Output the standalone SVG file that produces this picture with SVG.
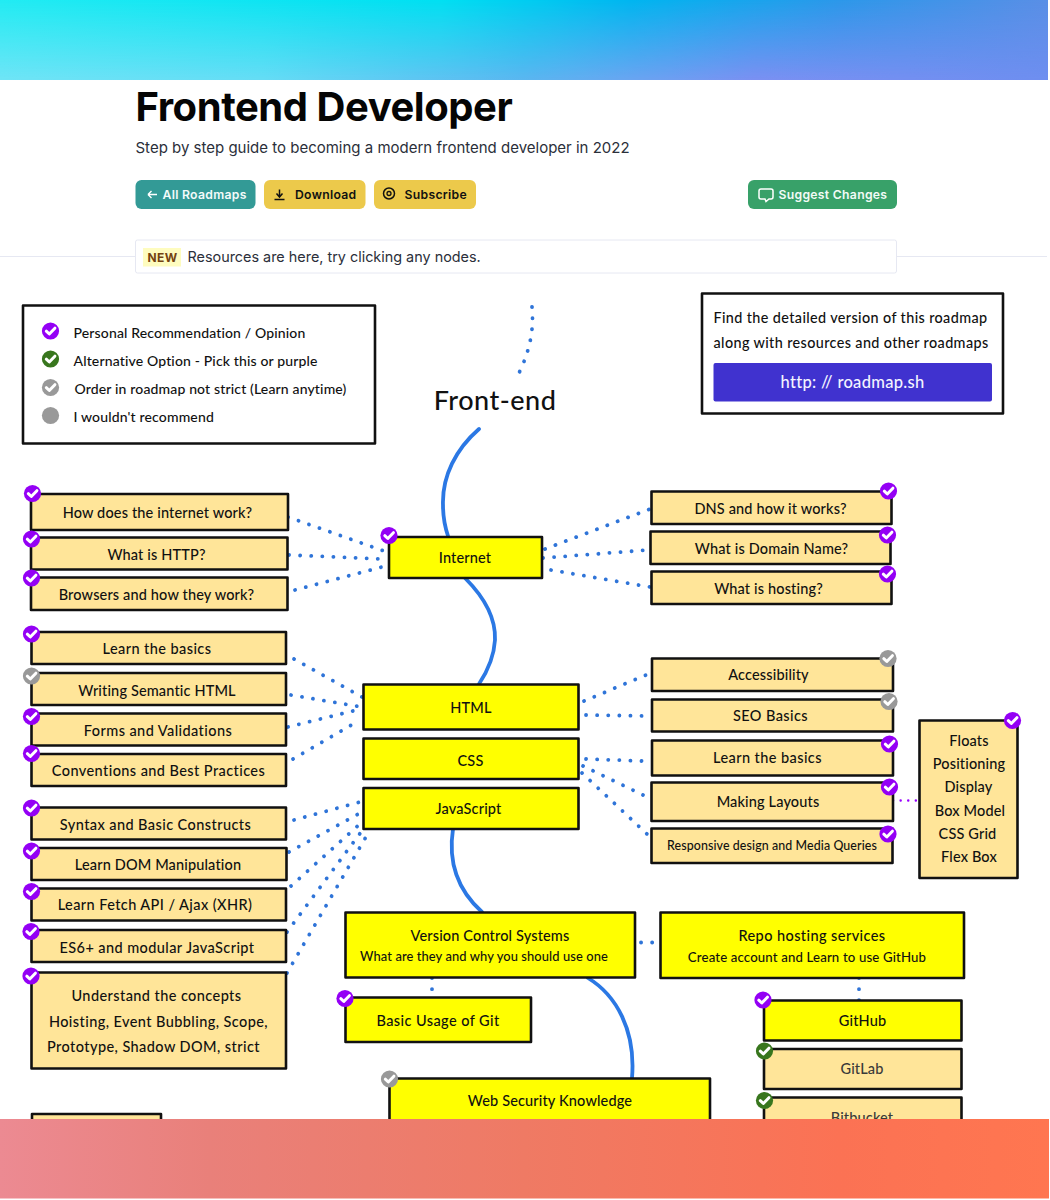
<svg xmlns="http://www.w3.org/2000/svg" width="1050" height="1200" viewBox="0 0 1050 1200">
<style>
.ui{font-family:"Inter","Liberation Sans",sans-serif}
.t{font-family:"Lato","Open Sans",sans-serif;font-size:14.5px;font-weight:500;fill:#111;text-anchor:middle;letter-spacing:.15px}
.w{letter-spacing:.42px}
.s{font-size:12.9px;letter-spacing:.1px}
.l{text-anchor:start;font-size:14px}
.p{text-anchor:start;font-size:14.4px;letter-spacing:.38px}
.n{stroke:#111;stroke-width:2.6;stroke-linejoin:round}
.y{fill:#ff0}
.o{fill:#ffe599}
.d{fill:none;stroke:#2f74d8;stroke-width:3.8;stroke-linecap:round;stroke-dasharray:.1 11}
.c{fill:none;stroke:#2b78e4;stroke-width:3.8;stroke-linecap:round}
.b{font-size:12.2px;font-weight:600;letter-spacing:.3px}
</style>
<defs>
<linearGradient id="topA" x1="0" y1="0" x2="1" y2="0"><stop offset="0" stop-color="#22ecf3"/><stop offset=".42" stop-color="#00e0f2"/><stop offset=".6" stop-color="#00b6f0"/><stop offset=".8" stop-color="#2c98ea"/><stop offset="1" stop-color="#5a8fe6"/></linearGradient>
<linearGradient id="topB" x1="0" y1="0" x2="1" y2="0"><stop offset="0" stop-color="#6fe4f6"/><stop offset=".25" stop-color="#66dcf5"/><stop offset=".5" stop-color="#5ab6f0"/><stop offset=".72" stop-color="#7b90f2"/><stop offset="1" stop-color="#6e8ef0"/></linearGradient>
<linearGradient id="fade" x1="0" y1="0" x2="0" y2="1"><stop offset="0" stop-color="#000"/><stop offset="1" stop-color="#fff"/></linearGradient>
<mask id="topMask" maskUnits="userSpaceOnUse" x="0" y="0" width="1050" height="80"><rect width="1050" height="80" fill="url(#fade)"/></mask>
<linearGradient id="bot" x1="0" y1="0" x2="1" y2="0"><stop offset="0" stop-color="#ec8a92"/><stop offset=".2" stop-color="#e9807a"/><stop offset=".5" stop-color="#ef7a64"/><stop offset=".8" stop-color="#fb7254"/><stop offset="1" stop-color="#ff7650"/></linearGradient>
<path id="chk" d="M-4.2,.2 L-1.2,3 L4.4,-2.8" fill="none" stroke="#fff" stroke-width="3" stroke-linecap="round" stroke-linejoin="round"/>
<g id="bp"><circle r="8.6" fill="#9400f5"/><use href="#chk"/></g>
<g id="bg"><circle r="8.6" fill="#38761d"/><use href="#chk"/></g>
<g id="bs"><circle r="8.6" fill="#999"/><use href="#chk"/></g>
</defs>
<rect width="1050" height="1200" fill="#fff"/>

<g id="header">
<line x1="0" y1="256.500" x2="135" y2="256.500" stroke="#e6e8f2"/>
<line x1="897" y1="256.500" x2="1047" y2="256.500" stroke="#e6e8f2"/>
<text class="ui" x="135.500" y="121" font-size="40" font-weight="700" fill="#050505" letter-spacing="-.45">Frontend Developer</text>
<text class="ui" x="135.500" y="153" font-size="15" fill="#2b2f3a">Step by step guide to becoming a modern frontend developer in 2022</text>
<rect x="135.500" y="180" width="120" height="29" rx="6" fill="#339a96"/>
<path d="M148,194.500h9M148,194.500l3.500,-3.500M148,194.500l3.500,3.500" stroke="#fff" stroke-width="1.400" fill="none"/>
<text class="ui b" x="162.500" y="199" fill="#f4fbfa">All Roadmaps</text>
<rect x="264" y="180" width="101.500" height="29" rx="6" fill="#ecc94b"/>
<path d="M279.500,189.500v7M276.500,193.500l3,3.500l3,-3.500M274.500,199.500h10" stroke="#111" stroke-width="1.500" fill="none"/>
<text class="ui b" x="295" y="199" fill="#111">Download</text>
<rect x="374" y="180" width="102" height="29" rx="6" fill="#ecc94b"/>
<circle cx="389" cy="193.500" r="5.500" fill="none" stroke="#111" stroke-width="1.500"/><circle cx="389" cy="193.500" r="2" fill="none" stroke="#111" stroke-width="1.300"/>
<text class="ui b" x="404.500" y="199" fill="#111">Subscribe</text>
<rect x="748" y="180" width="149" height="29" rx="6" fill="#38a169"/>
<path d="M761,189h10a2,2 0 0 1 2,2v6a2,2 0 0 1 -2,2h-2l-3,2.500l-1,-2.500h-4a2,2 0 0 1 -2,-2v-6a2,2 0 0 1 2,-2z" fill="none" stroke="#fff" stroke-width="1.500"/>
<text class="ui b" x="778.500" y="199" fill="#f2fbf6">Suggest Changes</text>
<rect x="135.500" y="240" width="761" height="33" rx="2" fill="#fff" stroke="#e6e8f2"/>
<rect x="143" y="248" width="38" height="18.500" fill="#fefcbf"/>
<text class="ui" x="147.500" y="262" font-size="12" font-weight="700" fill="#744210" letter-spacing=".4">NEW</text>
<text class="ui" x="187.500" y="262" font-size="14.400" fill="#2b2f3a">Resources are here, try clicking any nodes.</text>
</g>

<g id="connectors">
<path class="c" d="M479,429C456,449 442,476 443,505C443,518 445,527 448,536"/>
<path class="c" d="M465,578C484,597 496,617 495,640C494,657 487,672 479,684"/>
<path class="c" d="M453,829C449,855 452,885 482,912"/>
<path class="c" d="M588,978C616,995 636,1030 632,1078"/>
<path class="d" d="M532,307C534,330 530,350 519,373"/>
<path class="d" d="M288,517L384,551"/>
<path class="d" d="M289,555L381,559"/>
<path class="d" d="M295,590L382,567"/>
<path class="d" d="M545,549L650,509"/>
<path class="d" d="M543,558L648,550"/>
<path class="d" d="M551,570L650,587"/>
<path class="d" d="M294,659L362,697"/>
<path class="d" d="M291,695L362,707"/>
<path class="d" d="M288,727L361,709"/>
<path class="d" d="M293,759L360,720"/>
<path class="d" d="M294,820L360,802"/>
<path class="d" d="M289,852L362,812"/>
<path class="d" d="M291,886L362,822"/>
<path class="d" d="M287,932L364,828"/>
<path class="d" d="M287,973L370,830"/>
<path class="d" d="M584,701L646,675"/>
<path class="d" d="M586,715L651,716"/>
<path class="d" d="M586,759L642,761"/>
<path class="d" d="M583,766L643,795"/>
<path class="d" d="M582,773L647,834"/>
<path class="d" d="M641,942.500L653,942.500"/>
<path class="d" d="M432,978L432,991"/>
<path class="d" d="M859,978L859,1001"/>
<path d="M893,800.500L918,800.500" fill="none" stroke="#9900ff" stroke-width="2.400" stroke-linecap="round" stroke-dasharray=".1 7.500"/>
</g>

<g id="legend">
<rect class="n" x="23" y="305.500" width="352" height="138" fill="#fff"/>
<use href="#bp" x="50.500" y="331"/><use href="#bg" x="50.500" y="359"/><use href="#bs" x="50.500" y="387.500"/><circle cx="50.500" cy="415.500" r="8.600" fill="#999"/>
<text class="t l" x="73.500" y="338">Personal Recommendation / Opinion</text>
<text class="t l" x="73.500" y="366">Alternative Option - Pick this or purple</text>
<text class="t l" x="74.500" y="394">Order in roadmap not strict (Learn anytime)</text>
<text class="t l" x="73.500" y="422">I wouldn't recommend</text>
</g>
<g id="promo">
<rect class="n" x="702" y="293.500" width="301" height="120" fill="#fff"/>
<text class="t p" x="713.500" y="323">Find the detailed version of this roadmap</text>
<text class="t p" x="713.500" y="348">along with resources and other roadmaps</text>
<rect x="713.500" y="363" width="278.500" height="38.500" rx="2" fill="#4032cf"/>
<text class="t" x="852.500" y="388" style="font-size:16.500px;letter-spacing:.3px;fill:#f4f4ff">http: // roadmap.sh</text>
</g>
<text id="title-frontend" class="t" x="495" y="410" style="font-size:27px;letter-spacing:.5px">Front-end</text>

<g id="n-how"><rect class="n o" x="31" y="494" width="257" height="36"/><text class="t" x="157.500" y="518">How does the internet work?</text><use href="#bp" x="32.500" y="493.500"/></g>
<g id="n-http"><rect class="n o" x="31" y="537.500" width="256.500" height="32"/><text class="t" x="156.500" y="560">What is HTTP?</text><use href="#bp" x="31.500" y="539"/></g>
<g id="n-browsers"><rect class="n o" x="31" y="577.500" width="256.500" height="32.500"/><text class="t" x="156.500" y="600">Browsers and how they work?</text><use href="#bp" x="31.500" y="578"/></g>
<g id="n-internet"><rect class="n y" x="389" y="537" width="153" height="41"/><text class="t" x="465" y="563">Internet</text><use href="#bp" x="389" y="535.500"/></g>
<g id="n-dns"><rect class="n o" x="651.500" y="491.500" width="240" height="32.500"/><text class="t" x="770.500" y="514">DNS and how it works?</text><use href="#bp" x="888.500" y="491"/></g>
<g id="n-domain"><rect class="n o" x="650.500" y="531.500" width="240" height="32.500"/><text class="t" x="771.500" y="554">What is Domain Name?</text><use href="#bp" x="887.500" y="535"/></g>
<g id="n-hosting"><rect class="n o" x="651.500" y="571.500" width="240" height="32.500"/><text class="t" x="768.500" y="594">What is hosting?</text><use href="#bp" x="887.500" y="574"/></g>

<g id="n-basics"><rect class="n o" x="31.500" y="632" width="254.500" height="32"/><text class="t w" x="157" y="654">Learn the basics</text><use href="#bp" x="31.500" y="634"/></g>
<g id="n-semantic"><rect class="n o" x="31.500" y="673" width="254.500" height="32"/><text class="t" x="157" y="695.500">Writing Semantic HTML</text><use href="#bs" x="31.500" y="676"/></g>
<g id="n-forms"><rect class="n o" x="31.500" y="713.500" width="254.500" height="32"/><text class="t w" x="158" y="735.500">Forms and Validations</text><use href="#bp" x="31.500" y="716.500"/></g>
<g id="n-conventions"><rect class="n o" x="31.500" y="754" width="254.500" height="32"/><text class="t w" x="158.500" y="776">Conventions and Best Practices</text><use href="#bp" x="31.500" y="753.500"/></g>
<g id="n-syntax"><rect class="n o" x="31.500" y="807.500" width="254.500" height="32"/><text class="t w" x="155.500" y="830">Syntax and Basic Constructs</text><use href="#bp" x="31.500" y="808"/></g>
<g id="n-dom"><rect class="n o" x="31.500" y="848" width="255" height="32"/><text class="t" x="158" y="870">Learn DOM Manipulation</text><use href="#bp" x="31.500" y="851"/></g>
<g id="n-fetch"><rect class="n o" x="31.500" y="888.500" width="254.500" height="32"/><text class="t w" x="155" y="910">Learn Fetch API / Ajax (XHR)</text><use href="#bp" x="31.500" y="891.500"/></g>
<g id="n-es6"><rect class="n o" x="31.500" y="930" width="254.500" height="32"/><text class="t w" x="157" y="952.500">ES6+ and modular JavaScript</text><use href="#bp" x="31" y="931.500"/></g>
<g id="n-concepts"><rect class="n o" x="31.500" y="972.500" width="254.500" height="96"/><text class="t w" x="156.500" y="1001">Understand the concepts</text><text class="t w" x="158.500" y="1027">Hoisting, Event Bubbling, Scope,</text><text class="t w" x="153.500" y="1052">Prototype, Shadow DOM, strict</text><use href="#bp" x="31" y="976"/></g>
<g id="n-stub"><rect class="n o" x="32" y="1114" width="129" height="40"/></g>

<g id="n-html"><rect class="n y" x="363.500" y="684.500" width="215" height="45"/><text class="t" x="471" y="713">HTML</text></g>
<g id="n-css"><rect class="n y" x="363.500" y="738.500" width="215" height="40.500"/><text class="t" x="470.500" y="766">CSS</text></g>
<g id="n-js"><rect class="n y" x="363.500" y="788" width="215" height="41"/><text class="t" x="468.500" y="814">JavaScript</text></g>

<g id="n-access"><rect class="n o" x="652" y="658.500" width="241" height="32.500"/><text class="t" x="768.500" y="680">Accessibility</text><use href="#bs" x="888" y="658.500"/></g>
<g id="n-seo"><rect class="n o" x="652" y="699.500" width="241" height="32"/><text class="t w" x="770.500" y="721">SEO Basics</text><use href="#bs" x="889" y="701.500"/></g>
<g id="n-cssbasics"><rect class="n o" x="652" y="740.500" width="241" height="35"/><text class="t w" x="767.500" y="763">Learn the basics</text><use href="#bp" x="889.500" y="744"/></g>
<g id="n-layouts"><rect class="n o" x="651.500" y="782.500" width="241.500" height="38.500"/><text class="t" x="768" y="807">Making Layouts</text><use href="#bp" x="889.500" y="787"/></g>
<g id="n-responsive"><rect class="n o" x="651.500" y="828.500" width="241" height="34.500"/><text class="t" x="772" y="850" style="font-size:12.400px;letter-spacing:.1px">Responsive design and Media Queries</text><use href="#bp" x="888" y="834"/></g>
<g id="n-floats"><rect class="n o" x="919.500" y="720.500" width="98" height="157.500"/><text class="t" x="969" y="746">Floats</text><text class="t" x="969" y="769">Positioning</text><text class="t" x="968.500" y="792">Display</text><text class="t" x="970" y="816">Box Model</text><text class="t" x="967.500" y="839">CSS Grid</text><text class="t" x="969" y="862">Flex Box</text><use href="#bp" x="1012.500" y="720.500"/></g>

<g id="n-vcs"><rect class="n y" x="345.500" y="912.500" width="289.500" height="65"/><text class="t" x="490" y="941">Version Control Systems</text><text class="t s" x="484" y="961">What are they and why you should use one</text></g>
<g id="n-repo"><rect class="n y" x="660.500" y="912.500" width="303.500" height="65.500"/><text class="t w" x="812" y="941">Repo hosting services</text><text class="t s" x="807" y="962" style="font-size:13.200px;letter-spacing:.15px">Create account and Learn to use GitHub</text></g>
<g id="n-git"><rect class="n y" x="345.500" y="997.500" width="185.500" height="44.500"/><text class="t w" x="438" y="1026">Basic Usage of Git</text><use href="#bp" x="345" y="998.500"/></g>
<g id="n-security"><rect class="n y" x="389.500" y="1078.500" width="320.500" height="70"/><text class="t" x="550" y="1106">Web Security Knowledge</text><use href="#bs" x="389.500" y="1079"/></g>
<g id="n-github"><rect class="n y" x="764" y="1000.500" width="197.500" height="40"/><text class="t" x="862.500" y="1026">GitHub</text><use href="#bp" x="763" y="1000"/></g>
<g id="n-gitlab"><rect class="n o" x="764" y="1049" width="197.500" height="40"/><text class="t" x="862" y="1074" style="fill:#3a3a3a">GitLab</text><use href="#bg" x="764.500" y="1051"/></g>
<g id="n-bitbucket"><rect class="n o" x="764" y="1097.500" width="197.500" height="50"/><text class="t" x="862" y="1123" style="fill:#3a3a3a">Bitbucket</text><use href="#bg" x="764.500" y="1100.500"/></g>

<g id="banners">
<rect x="0" y="0" width="1048" height="80" fill="url(#topA)"/>
<rect x="0" y="0" width="1048" height="80" fill="url(#topB)" mask="url(#topMask)"/>
<rect x="0" y="1119" width="1049" height="79.500" fill="url(#bot)"/>
</g>
</svg>
